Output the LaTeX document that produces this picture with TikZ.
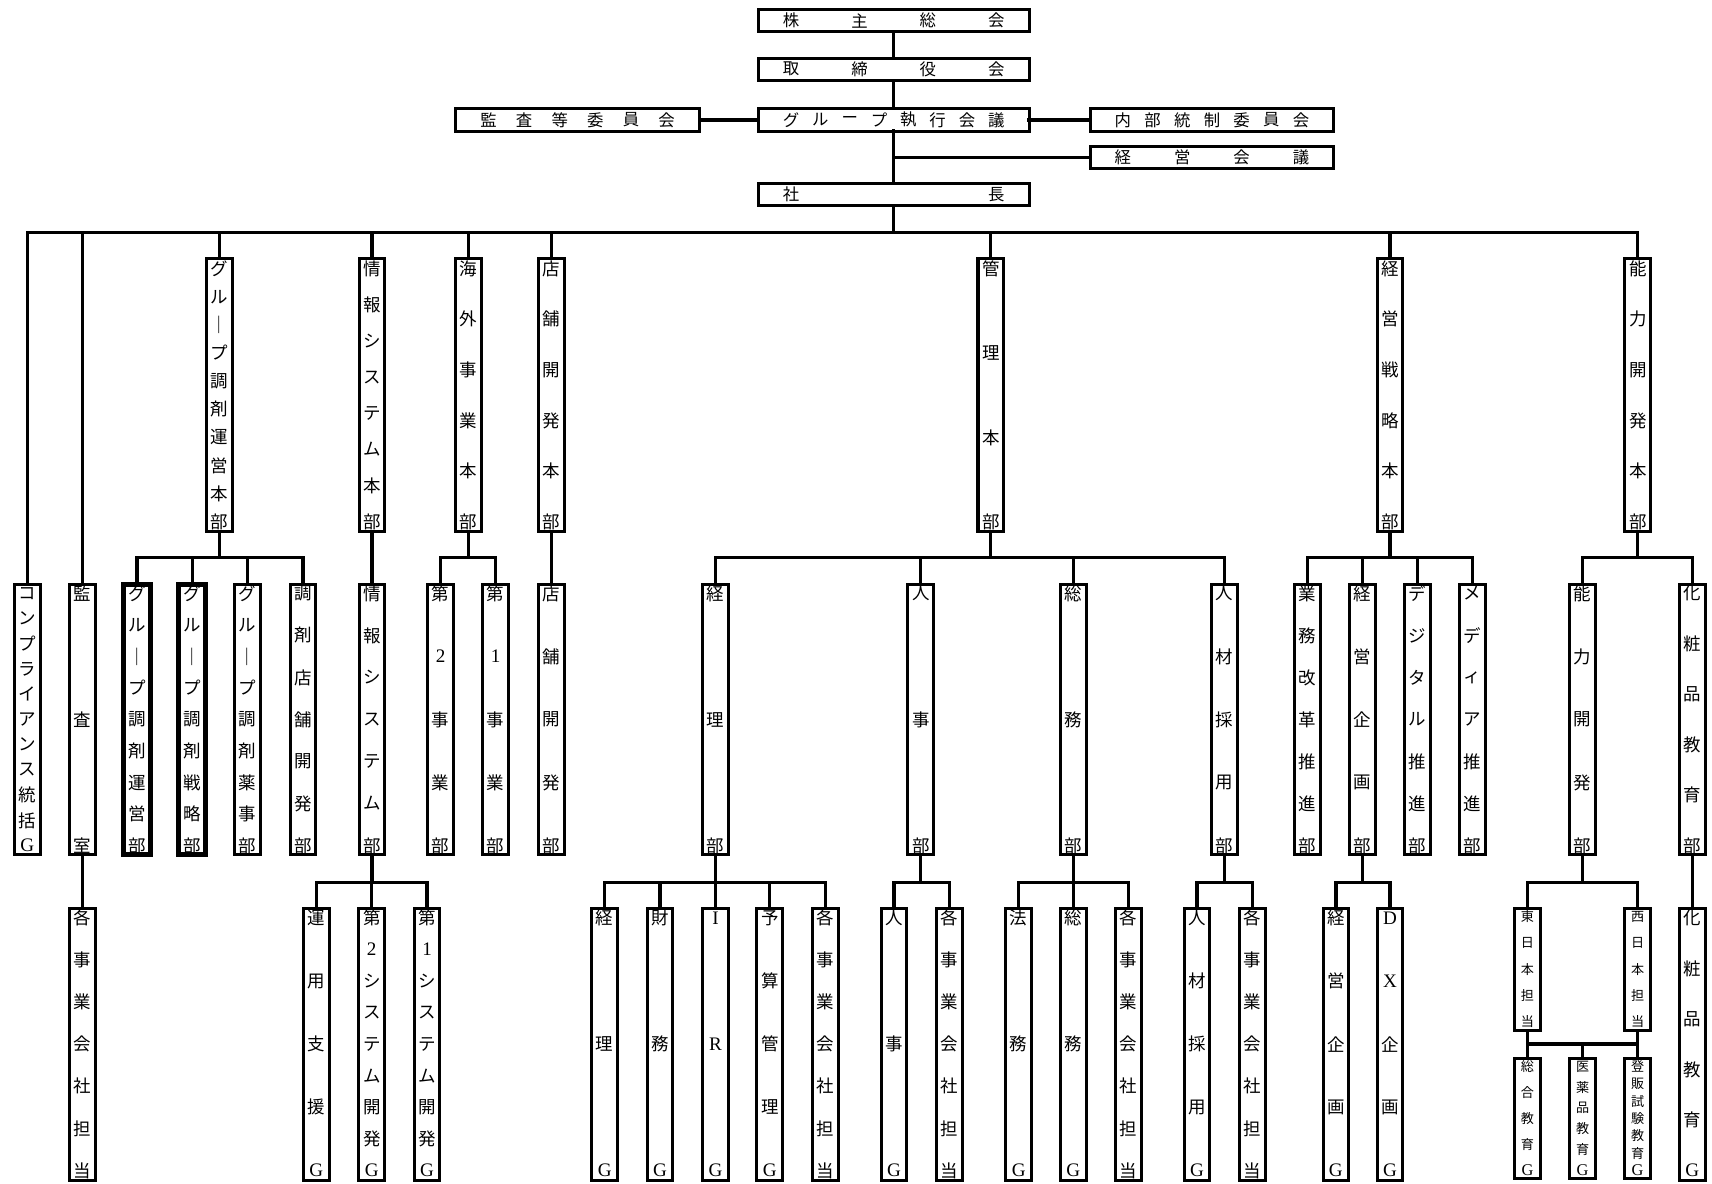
\documentclass[tikz,border=0pt]{standalone}
\usepackage{fontspec}
\setmainfont{Liberation Serif}
\newfontfamily\jp{Noto Sans CJK JP}
\newfontfamily\lat{Liberation Serif}
\newcommand\LatB[1]{{\lat\fontsize{17.5}{17.5}\selectfont #1}}
\newcommand\LatS[1]{{\lat\fontsize{15}{15}\selectfont #1}}
\tikzset{
  ln/.style={line width=3pt, line cap=rect},
  bx/.style={draw, line width=2.8pt, rectangle, inner sep=0pt, outer sep=0pt, minimum width=23.5pt},
  thickbx/.style={line width=4.5pt, minimum width=25pt},
  hbx/.style={draw, line width=2.8pt, rectangle, inner sep=0pt, outer sep=0pt, minimum height=20.5pt},
  vch/.style={inner sep=0pt, font=\jp\fontsize{16}{16}\selectfont},
  sch/.style={inner sep=0pt, font=\jp\fontsize{12}{12}\selectfont},
  hch/.style={inner sep=0pt, font=\jp\fontsize{15}{15}\selectfont},
}
% horizontal box: name, xleft, xright, y, n, chars
\newcommand\HBx[6]{%
  \node[hbx, minimum width={#3-#2}] (#1) at ({(#2+#3)/2},#4) {};
  \foreach \c [count=\i] in {#6}{%
    \node[hch] at ({#2+30+(\i-1)*(#3-#2-60)/(#5-1)},#4) {\c};
  }%
}
% vertical box: [char style], box style, name, x, ytop, ybot, pad, n, chars
\newcommand\VBx[9][vch]{%
  \node[bx,#2, minimum height={#6-#5}] (#3) at (#4,{(#5+#6)/2}) {};
  \foreach \c [count=\i] in {#9}{%
    \node[#1] at (#4,{#5+#7+(\i-1)*(#6-#5-2*#7)/(#8-1)}) {\c};
  }%
}
% parent, bus coordinate, first child, last child, all children
\newcommand\Branch[5]{%
  \draw[ln] (#1.south) -- (#1.south |- #2);
  \draw[ln] (#3.north |- #2) -- (#4.north |- #2);
  \foreach \k in {#5}{\draw[ln] (\k.north |- #2) -- (\k.north);}%
}
\begin{document}
\begin{tikzpicture}[x=1pt,y=-1pt]
\fill[white] (0,0) rectangle (1568,1084);
\useasboundingbox (0,0) rectangle (1568,1084);
\coordinate (b1) at (0,212.8);
\coordinate (b2) at (0,510.5);
\coordinate (b3) at (0,808.3);
\coordinate (b4) at (0,956.2);

% ---- top boxes
\HBx{sh}{694.5}{942.5}{19}{4}{株,主,総,会}
\HBx{tr}{694.5}{942.5}{63.4}{4}{取,締,役,会}
\HBx{ge}{694.5}{942.5}{109.8}{8}{グ,ル,ー,プ,執,行,会,議}
\HBx{ka}{417.4}{640.6}{109.8}{6}{監,査,等,委,員,会}
\HBx{nb}{998.4}{1221.6}{109.8}{7}{内,部,統,制,委,員,会}
\HBx{km}{998.4}{1221.6}{144}{4}{経,営,会,議}
\HBx{ps}{694.5}{942.5}{178.3}{2}{社,長}

% ---- level 2
\VBx{}{hq1}{201}{237}{487}{9}{10}{グ,ル,｜,プ,調,剤,運,営,本,部}
\VBx{}{hq2}{340.7}{237}{487}{9}{8}{情,報,シ,ス,テ,ム,本,部}
\VBx{}{hq3}{429}{237}{487}{9}{6}{海,外,事,業,本,部}
\VBx{}{hq4}{505}{237}{487}{9}{6}{店,舗,開,発,本,部}
\VBx{}{hq5}{907.5}{237}{487}{9}{4}{管,理,本,部}
\VBx{}{hq6}{1273}{237}{487}{9}{6}{経,営,戦,略,本,部}
\VBx{}{hq7}{1500}{237}{487}{9}{6}{能,力,開,発,本,部}

% ---- level 3
\VBx{}{comp}{25}{535}{783}{8.5}{11}{コ,ン,プ,ラ,イ,ア,ン,ス,統,括,\LatB{G}}
\VBx{}{audit}{75.5}{535}{783}{8.5}{3}{監,査,室}
\VBx{thickbx}{d1}{125.5}{535}{783}{8.5}{9}{グ,ル,｜,プ,調,剤,運,営,部}
\VBx{thickbx}{d2}{176}{535}{783}{8.5}{9}{グ,ル,｜,プ,調,剤,戦,略,部}
\VBx{}{d3}{226.7}{535}{783}{8.5}{9}{グ,ル,｜,プ,調,剤,薬,事,部}
\VBx{}{d4}{277.5}{535}{783}{8.5}{7}{調,剤,店,舗,開,発,部}
\VBx{}{d5}{340.7}{535}{783}{8.5}{7}{情,報,シ,ス,テ,ム,部}
\VBx{}{d6}{403.5}{535}{783}{8.5}{5}{第,\LatB{2},事,業,部}
\VBx{}{d7}{454}{535}{783}{8.5}{5}{第,\LatB{1},事,業,部}
\VBx{}{d8}{505}{535}{783}{8.5}{5}{店,舗,開,発,部}
\VBx{}{d9}{655.3}{535}{783}{8.5}{3}{経,理,部}
\VBx{}{d10}{843.3}{535}{783}{8.5}{3}{人,事,部}
\VBx{}{d11}{983}{535}{783}{8.5}{3}{総,務,部}
\VBx{}{d12}{1121.4}{535}{783}{8.5}{5}{人,材,採,用,部}
\VBx{}{d13}{1197.6}{535}{783}{8.5}{7}{業,務,改,革,推,進,部}
\VBx{}{d14}{1248}{535}{783}{8.5}{5}{経,営,企,画,部}
\VBx{}{d15}{1298.3}{535}{783}{8.5}{7}{デ,ジ,タ,ル,推,進,部}
\VBx{}{d16}{1348.7}{535}{783}{8.5}{7}{メ,デ,ィ,ア,推,進,部}
\VBx{}{d17}{1449.5}{535}{783}{8.5}{5}{能,力,開,発,部}
\VBx{}{d18}{1550}{535}{783}{8.5}{6}{化,粧,品,教,育,部}

% ---- level 4
\VBx{}{g1}{75.5}{831.8}{1081}{9}{7}{各,事,業,会,社,担,当}
\VBx{}{g2}{289.7}{831.8}{1081}{9}{5}{運,用,支,援,\LatB{G}}
\VBx{}{g3}{340.5}{831.8}{1081}{9}{9}{第,\LatB{2},シ,ス,テ,ム,開,発,\LatB{G}}
\VBx{}{g4}{391.2}{831.8}{1081}{9}{9}{第,\LatB{1},シ,ス,テ,ム,開,発,\LatB{G}}
\VBx{}{g5}{553.8}{831.8}{1081}{9}{3}{経,理,\LatB{G}}
\VBx{}{g6}{604.5}{831.8}{1081}{9}{3}{財,務,\LatB{G}}
\VBx{}{g7}{655.3}{831.8}{1081}{9}{3}{\LatB{I},\LatB{R},\LatB{G}}
\VBx{}{g8}{705}{831.8}{1081}{9}{5}{予,算,管,理,\LatB{G}}
\VBx{}{g9}{756.2}{831.8}{1081}{9}{7}{各,事,業,会,社,担,当}
\VBx{}{g10}{818.8}{831.8}{1081}{9}{3}{人,事,\LatB{G}}
\VBx{}{g11}{869.5}{831.8}{1081}{9}{7}{各,事,業,会,社,担,当}
\VBx{}{g12}{933}{831.8}{1081}{9}{3}{法,務,\LatB{G}}
\VBx{}{g13}{983}{831.8}{1081}{9}{3}{総,務,\LatB{G}}
\VBx{}{g14}{1033.5}{831.8}{1081}{9}{7}{各,事,業,会,社,担,当}
\VBx{}{g15}{1096.3}{831.8}{1081}{9}{5}{人,材,採,用,\LatB{G}}
\VBx{}{g16}{1147}{831.8}{1081}{9}{7}{各,事,業,会,社,担,当}
\VBx{}{g17}{1223.5}{831.8}{1081}{9}{5}{経,営,企,画,\LatB{G}}
\VBx{}{g18}{1273}{831.8}{1081}{9}{5}{\LatB{D},\LatB{X},企,画,\LatB{G}}
\VBx[sch]{}{g19}{1399}{831.8}{943.5}{7.8}{5}{東,日,本,担,当}
\VBx[sch]{}{g20}{1499.8}{831.8}{943.5}{7.8}{5}{西,日,本,担,当}
\VBx[sch]{}{g21}{1399}{969.2}{1079.5}{7.5}{5}{総,合,教,育,\LatS{G}}
\VBx[sch]{}{g22}{1449.5}{969.2}{1079.5}{7.5}{6}{医,薬,品,教,育,\LatS{G}}
\VBx[sch]{}{g23}{1499.8}{969.2}{1079.5}{7.5}{7}{登,販,試,験,教,育,\LatS{G}}
\VBx{}{g24}{1550}{831.8}{1081}{9}{6}{化,粧,品,教,育,\LatB{G}}

% ---- connectors, top
\draw[ln] (sh.south) -- (tr.north);
\draw[ln] (tr.south) -- (ge.north);
\draw[ln] (ka.east) -- (ge.west);
\draw[ln] (ge.east) -- (nb.west);
\draw[ln] (ge.south) -- (ps.north);
\draw[ln] (ge.south |- km.west) -- (km.west);
\draw[ln] (ps.south) -- (ps.south |- b1);
% main bus
\draw[ln] (comp.north |- b1) -- (hq7.north |- b1);
\foreach \k in {comp,audit,hq1,hq2,hq3,hq4,hq5,hq6,hq7}{\draw[ln] (\k.north |- b1) -- (\k.north);}
% level 2 -> 3
\Branch{hq1}{b2}{d1}{d4}{d1,d2,d3,d4}
\draw[ln] (hq2.south) -- (d5.north);
\Branch{hq3}{b2}{d6}{d7}{d6,d7}
\draw[ln] (hq4.south) -- (d8.north);
\Branch{hq5}{b2}{d9}{d12}{d9,d10,d11,d12}
\Branch{hq6}{b2}{d13}{d16}{d13,d14,d15,d16}
\Branch{hq7}{b2}{d17}{d18}{d17,d18}
% level 3 -> 4
\draw[ln] (audit.south) -- (g1.north);
\Branch{d5}{b3}{g2}{g4}{g2,g3,g4}
\Branch{d9}{b3}{g5}{g9}{g5,g6,g7,g8,g9}
\Branch{d10}{b3}{g10}{g11}{g10,g11}
\Branch{d11}{b3}{g12}{g14}{g12,g13,g14}
\Branch{d12}{b3}{g15}{g16}{g15,g16}
\Branch{d14}{b3}{g17}{g18}{g17,g18}
\Branch{d17}{b3}{g19}{g20}{g19,g20}
\draw[ln] (d18.south) -- (g24.north);
% east/west -> education groups
\draw[ln] (g19.south) -- (g19.south |- b4);
\draw[ln] (g20.south) -- (g20.south |- b4);
\draw[ln] (g19.south |- b4) -- (g20.south |- b4);
\foreach \k in {g21,g22,g23}{\draw[ln] (\k.north |- b4) -- (\k.north);}
\end{tikzpicture}
\end{document}
